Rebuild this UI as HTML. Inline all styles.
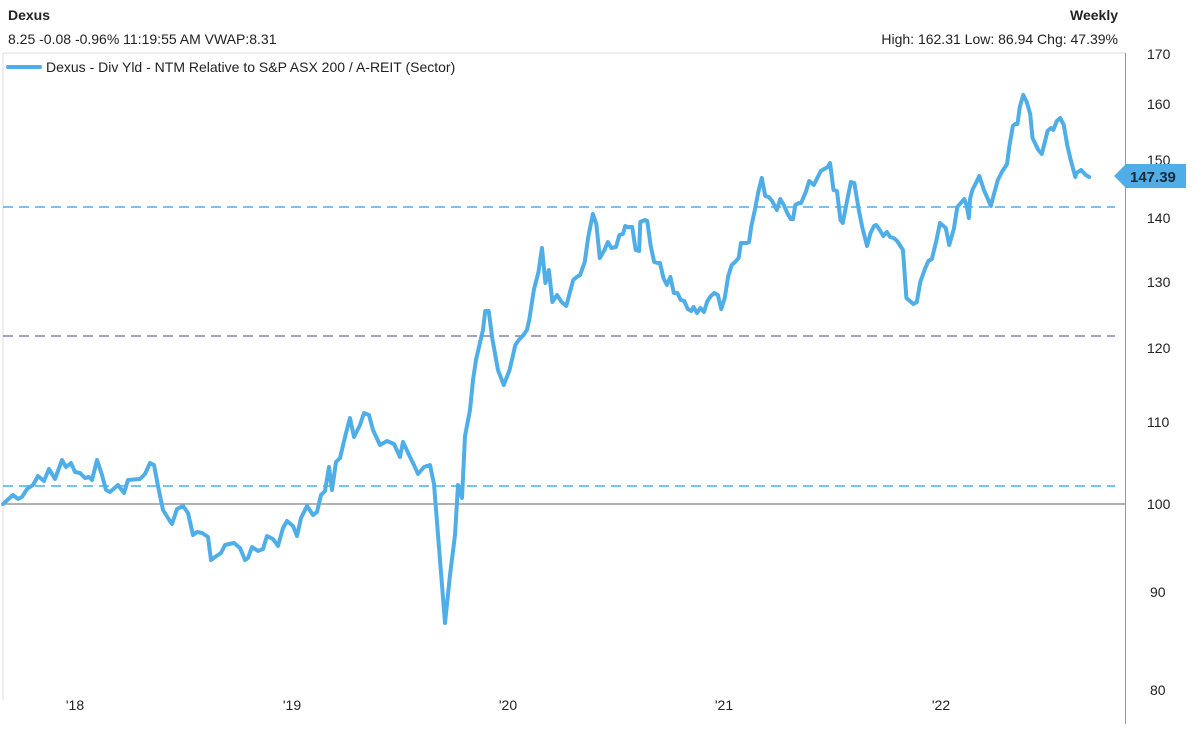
<!DOCTYPE html>
<html><head><meta charset="utf-8"><style>
body{margin:0;background:#fff;width:1196px;height:724px;overflow:hidden;font-family:"Liberation Sans",Arial,sans-serif;}
</style></head><body>
<svg width="1196" height="724" xmlns="http://www.w3.org/2000/svg" font-family="Liberation Sans, Arial, sans-serif">
<text x="8" y="20" font-size="14" font-weight="bold" fill="#222">Dexus</text>
<text x="8" y="44" font-size="14" fill="#222">8.25 -0.08 -0.96% 11:19:55 AM VWAP:8.31</text>
<text x="1118" y="20" font-size="14" font-weight="bold" fill="#222" text-anchor="end">Weekly</text>
<text x="1118" y="44" font-size="14" fill="#222" text-anchor="end">High: 162.31 Low: 86.94 Chg: 47.39%</text>
<line x1="3" y1="53" x2="1126" y2="53" stroke="#ddd"/>
<line x1="3" y1="53" x2="3" y2="700" stroke="#ddd"/>
<line x1="1125.5" y1="53" x2="1125.5" y2="724" stroke="#999"/>
<line x1="8" y1="67" x2="40" y2="67" stroke="#4faee8" stroke-width="4" stroke-linecap="round"/>
<text x="46" y="72" font-size="14" fill="#222">Dexus - Div Yld - NTM Relative to S&amp;P ASX 200 / A-REIT (Sector)</text>
<g font-size="14" fill="#222">
<text x="1147" y="59">170</text><text x="1147" y="109">160</text><text x="1147" y="165">150</text>
<text x="1147" y="223">140</text><text x="1147" y="287">130</text><text x="1147" y="353">120</text>
<text x="1147" y="427">110</text><text x="1147" y="509">100</text><text x="1150" y="597">90</text><text x="1150" y="695">80</text>
</g>
<g font-size="14" fill="#222" text-anchor="middle">
<text x="75" y="710">'18</text><text x="292" y="710">'19</text><text x="508" y="710">'20</text><text x="724" y="710">'21</text><text x="941" y="710">'22</text>
</g>
<line x1="3" y1="504" x2="1125" y2="504" stroke="#999" stroke-width="1.5"/>
<line x1="3" y1="486" x2="1115" y2="486" stroke="#4faee8" stroke-width="1.5" stroke-dasharray="10,6"/>
<line x1="3" y1="336" x2="1115" y2="336" stroke="#8080b8" stroke-width="1.5" stroke-dasharray="10,6"/>
<line x1="3" y1="207" x2="1115" y2="207" stroke="#4faee8" stroke-width="1.5" stroke-dasharray="10,6"/>
<polyline fill="none" stroke="#4faee8" stroke-width="4" stroke-linejoin="round" stroke-linecap="round" points="3,504 13,495 18,499 22,497 27,489 33,485 38,476 44,481 49,469 55,479 62,460 66,467 71,463 75,472 80,473 85,478 89,477 92,480 97,460 102,475 106,490 110,492 118,485 124,493 128,480 140,479 145,474 150,463 154,465 158,486 163,510 168,518 172,524 177,509 183,506 188,513 193,535 197,532 202,533 208,537 211,560 215,557 221,553 225,545 229,544 234,543 240,548 245,560 248,558 252,547 258,551 263,549 267,536 273,539 278,546 283,528 287,521 293,526 297,536 301,518 307,506 313,515 317,512 321,495 325,491 329,467 332,490 336,462 340,458 346,433 350,418 354,437 360,425 364,413 369,415 373,430 380,445 387,441 394,444 400,457 403,442 410,457 414,465 418,474 424,467 430,465 434,484 440,560 445,623 450,575 455,535 458,485 462,498 465,436 470,410 473,380 476,360"/>
<g transform="translate(476 0) scale(1.157 1) translate(-476 0)">
<polyline fill="none" stroke="#4faee8" stroke-width="4" stroke-linejoin="round" stroke-linecap="round" vector-effect="non-scaling-stroke" points="476,360 480,340 482,330 484,311 487,311 490,338 495,370 500,385 505,370 510,345 513,340 517,335 520,330 522,320 526,290 530,272 533,248 536,283 539,270 542,302 546,295 550,302 554,306 557,293 560,280 563,277 566,275 570,262 573,237 577,214 580,224 583,258 587,250 590,242 593,248 597,247 600,235 603,234 605,226 607,227 611,227 614,250 617,251 618,222 622,220 624,221 627,246 630,262 633,263 635,263 638,278 641,285 644,277 647,293 650,293 653,300 656,301 659,309 662,311 664,307 667,313 670,308 673,312 676,301 679,296 682,293 685,295 688,309 691,298 694,276 697,265 700,262 703,258 705,243 710,243 712,242 714,226 717,210 720,192 723,178 726,196 729,197 732,201 736,210 739,199 742,205 745,213 748,219 750,219 752,205 755,203 757,203 761,192 764,181 766,183 768,185 771,178 774,171 777,169 780,167 782,163 785,190 788,191 791,220 793,223 797,199 800,182 803,183 807,211 810,228 814,246 817,233 820,226 822,225 825,230 828,236 831,232 834,237 837,238 840,241 845,250 848,298 851,301 854,304 857,302 860,282 864,269 867,261 870,259 874,240 877,223 879,225 882,228 885,245 889,229 892,207 895,203 898,199 900,205 902,218 903,199 905,190 909,181 911,176 915,190 921,206 923,197 927,180 931,171 935,164 937,146 940,126 942,124 944,124 946,107 949,95 952,102 955,114 957,138 962,150 965,154 967,145 970,131 973,128 975,130 978,121 981,118 984,125 987,145 990,160 994,177 995,173 999,170 1003,175 1006,177"/>
</g>
<polygon points="1114,176 1126,164 1186,164 1186,188 1126,188" fill="#4faee8"/>
<text x="1130" y="182" font-size="15" font-weight="bold" fill="#1a2a3a">147.39</text>
</svg>
</body></html>
